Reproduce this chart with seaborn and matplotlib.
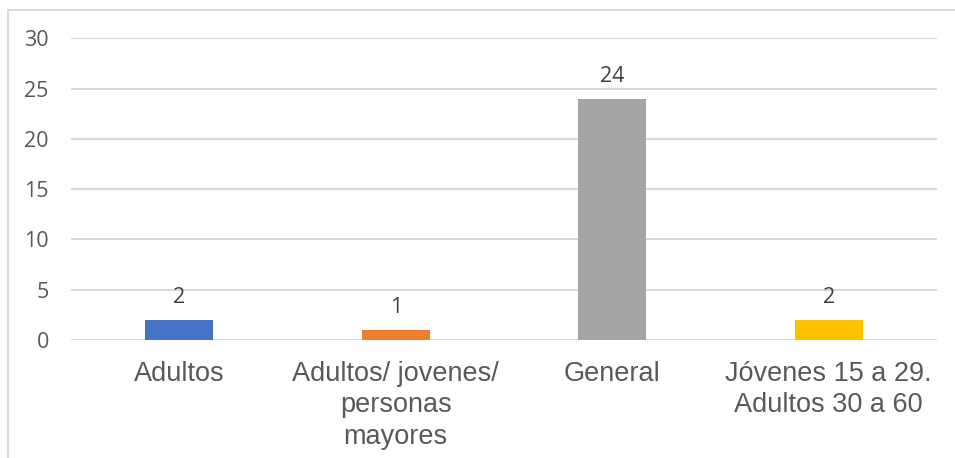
import matplotlib
matplotlib.use("Agg")
import matplotlib.pyplot as plt
from matplotlib.lines import Line2D
import seaborn as sns
import pandas as pd

# Data
categories = ["Adultos", "Adultos/ jovenes/\npersonas\nmayores", "General",
              "Jóvenes 15 a 29.\nAdultos 30 a 60"]
values = [2, 1, 24, 2]
bar_colors = ["#4472C4", "#ED7D31", "#A5A5A5", "#FFC000"]
y_ticks = [0, 5, 10, 15, 20, 25, 30]

sns.set_theme(style="white")
plt.rcParams["font.family"] = ["Liberation Sans", "DejaVu Sans"]

W, H = 955, 458
fig = plt.figure(figsize=(W / 100, H / 100), dpi=100)
ax = fig.add_axes([71 / W, 1 - 340 / H, (937 - 71) / W, (340 - 38.3) / H])

df = pd.DataFrame({"cat": categories, "val": values})
sns.barplot(data=df, x="cat", y="val", hue="cat", palette=bar_colors,
            width=0.314, legend=False, ax=ax, zorder=3, saturation=1,
            linewidth=0, edgecolor="none")

ax.set_xlim(-0.5, 3.5)
ax.set_ylim(0, 30)
ax.set_yticks(y_ticks)
ax.set_yticklabels([str(t) for t in y_ticks], fontfamily="Open Sans",
                   fontsize=15.5, color="#595959")
ax.tick_params(axis="y", length=0, pad=16)
ax.tick_params(axis="x", length=0, pad=15, labelsize=19.5, labelcolor="#595959")
for lbl in ax.get_xticklabels():
    lbl.set_linespacing(1.27)
ax.set_xlabel("")
ax.set_ylabel("")
ax.grid(axis="y", color="#D9D9D9", linewidth=1.5, zorder=0)
for s in ax.spines.values():
    s.set_visible(False)

# Value labels above bars
for i, v in enumerate(values):
    ax.annotate(str(v), (i, v), xytext=(0, 8.5), textcoords="offset points",
                ha="center", va="bottom", fontsize=15.5, color="#404040",
                fontfamily="Open Sans")

# Chart frame border (left and top edges)
fig.add_artist(Line2D([7.5 / W, 7.5 / W], [0, 1 - 9.5 / H],
                      transform=fig.transFigure, color="#D9D9D9", linewidth=1.5))
fig.add_artist(Line2D([7.5 / W, 1], [1 - 9.5 / H, 1 - 9.5 / H],
                      transform=fig.transFigure, color="#D9D9D9", linewidth=1.5))

fig.savefig("out.png", dpi=100)
